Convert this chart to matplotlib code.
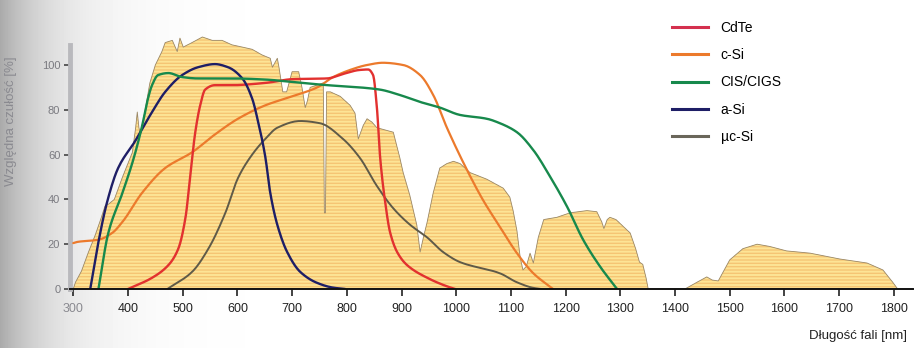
import numpy as np
import matplotlib
matplotlib.use("Agg")
import matplotlib.pyplot as plt
from matplotlib.lines import Line2D

plt.rcParams['font.family'] = ['Liberation Sans Narrow', 'Liberation Sans', 'DejaVu Sans']
plt.rcParams['hatch.linewidth'] = 1.4

# ---- data ----
spec_nm = [300, 304, 315, 327, 340, 350, 358, 365, 375, 390, 408, 414, 417, 420, 423, 430, 440, 450,
           462, 468, 481, 490, 495, 501, 517, 536, 554, 572, 590, 609, 627, 645, 660, 664, 673, 676,
           683, 690, 700, 712, 718, 724, 728, 733, 757, 759, 761, 763, 770, 788, 806, 815, 821, 830,
           837, 846, 855, 885, 897, 903, 915, 928, 934, 940, 947, 958, 970, 983, 995, 1007, 1025,
           1056, 1086, 1098, 1104, 1111, 1117, 1122, 1128, 1135, 1141, 1150, 1160, 1184, 1208, 1239,
           1257, 1266, 1270, 1276, 1281, 1292, 1318, 1328, 1335, 1341, 1347, 1351, 1418, 1440, 1458,
           1468, 1479, 1500, 1524, 1550, 1573, 1604, 1647, 1701, 1751, 1780, 1798, 1807]
spec_val = [0, 3, 8, 16, 24, 31, 37, 38, 40, 50, 61, 72, 79, 72, 69, 78, 92, 100,
            106, 110, 111, 106, 112, 108, 110, 112.5, 111, 111, 109, 108, 107, 104.5, 103, 99, 103, 99,
            88, 88, 97, 97, 90, 81, 84, 90, 92, 34, 34, 88, 88, 86, 82, 78.5, 67, 73,
            76, 74.5, 72, 70, 58.5, 52, 42, 28.5, 16.5, 23, 30, 43, 54, 56, 57, 56, 52,
            49, 45, 41, 35, 26, 14, 8.5, 10, 16, 11.6, 23, 31, 32, 34, 35,
            34.5, 30, 27, 31, 32, 31, 25, 18, 12, 11, 5, 0, 0, 3, 5.4,
            4, 3.6, 13, 18, 20, 19, 17, 16, 13.4, 11.6, 8.5, 3, 0]

cdte_nm = [400, 444, 474, 492, 505, 514, 523, 532, 541, 559, 590, 651, 702, 764, 793, 824, 839,
           848, 855, 861, 870, 879, 892, 910, 947, 983, 998]
cdte_val = [0, 5, 10.7, 18, 31.7, 51, 70, 82, 89, 91, 91, 92, 93.7, 94, 96, 97.8, 98,
            95.5, 81, 58.5, 39, 25.4, 16.5, 10.7, 5, 1.2, 0]

csi_nm = [300, 307, 346, 371, 390, 426, 468, 517, 559, 601, 651, 700, 746, 775, 806, 837, 866,
          903, 934, 958, 983, 1020, 1049, 1080, 1111, 1141, 1177]
csi_val = [20.5, 21, 22, 25, 30, 43, 54, 61, 69, 76, 82, 86, 90, 94.6, 97.8, 100, 101,
           100, 95.5, 86.6, 72, 53, 39.7, 27.7, 16, 7, 0]

cis_nm = [346, 364, 390, 410, 426, 435, 444, 455, 474, 499, 528, 590, 651, 702, 764, 824, 861,
          897, 934, 970, 1007, 1056, 1080, 1111, 1141, 1172, 1203, 1232, 1263, 1294]
cis_val = [0, 25, 43, 58, 73, 83.5, 91, 95.5, 96.4, 94.6, 94, 94, 93.5, 92.4, 91, 90, 89,
           86.6, 83.5, 81, 77.7, 76, 74, 70, 62, 50, 36.6, 22, 10, 0]

asi_nm = [331, 346, 362, 382, 413, 444, 468, 499, 528, 559, 583, 609, 627, 638, 651, 660, 673,
          691, 715, 746, 775, 797]
asi_val = [0, 21, 39, 54, 66, 79, 88, 95.5, 99, 100.4, 99, 94, 85, 74.5, 59, 43, 28.6,
           16.5, 7.6, 2.7, 0.6, 0]

ucsi_nm = [472, 517, 547, 578, 601, 627, 651, 673, 715, 751, 793, 824, 855, 885, 916, 947, 976,
           1007, 1080, 1111, 1141, 1155]
ucsi_val = [0, 7.6, 18, 34, 49.5, 60, 67, 72, 75, 74, 67, 58.5, 46, 36, 28.6, 23, 16.5,
            12, 7, 3, 0.5, 0]

series_labels = ['CdTe', 'c-Si', 'CIS/CIGS', 'a-Si', 'µc-Si']
x_ticks = [300, 400, 500, 600, 700, 800, 900, 1000, 1100, 1200, 1300, 1400, 1500, 1600, 1700, 1800]
y_ticks = [0, 20, 40, 60, 80, 100]


def smooth_path(x, y, n=12):
    """Monotone (PCHIP) rendering of a polyline for a smooth drawn curve."""
    x = np.asarray(x, float)
    y = np.asarray(y, float)
    h = np.diff(x)
    d = np.diff(y) / h
    m = np.zeros_like(y)
    m[0], m[-1] = d[0], d[-1]
    for k in range(1, len(x) - 1):
        if d[k - 1] * d[k] <= 0:
            m[k] = 0
        else:
            w1 = 2 * h[k] + h[k - 1]
            w2 = h[k] + 2 * h[k - 1]
            m[k] = (w1 + w2) / (w1 / d[k - 1] + w2 / d[k])
    xs, ys = [], []
    for k in range(len(x) - 1):
        t = np.linspace(0, 1, n, endpoint=False)
        h00 = 2 * t**3 - 3 * t**2 + 1
        h10 = t**3 - 2 * t**2 + t
        h01 = -2 * t**3 + 3 * t**2
        h11 = t**3 - t**2
        xs.append(x[k] + t * h[k])
        ys.append(h00 * y[k] + h10 * h[k] * m[k] + h01 * y[k + 1] + h11 * h[k] * m[k + 1])
    xs.append([x[-1]])
    ys.append([y[-1]])
    return np.concatenate(xs), np.concatenate(ys)


# ---- figure ----
fig = plt.figure(figsize=(9.23, 3.48), dpi=100)

# scanner-shadow background gradient
bg = fig.add_axes([0, 0, 1, 1], zorder=-10)
xs = np.linspace(0, 923, 923)
grad = 255 - 85 * np.exp(-xs / 55.0)
img = np.tile(grad, (10, 1)) / 255.0
bg.imshow(img, cmap='gray', vmin=0, vmax=1, aspect='auto', extent=[0, 1, 0, 1])
bg.set_axis_off()

ax = fig.add_axes([70 / 923, 59 / 348, 843 / 923, 257.6 / 348])
ax.patch.set_alpha(0)
ax.set_xlim(294, 1835)
ax.set_ylim(0, 115)

# solar spectrum
ax.fill_between(spec_nm, 0, spec_val, facecolor='#f5c574', edgecolor='#fde495',
                hatch='-----', linewidth=0, zorder=1)
ax.plot(spec_nm, spec_val, color='#9a8868', lw=0.6, zorder=2)

colors = ['#e2312f', '#ec7a2c', '#17894c', '#1e1e66', '#5f5a48']
widths = [1.7, 1.6, 1.7, 1.7, 1.4]
data = [(cdte_nm, cdte_val), (csi_nm, csi_val), (cis_nm, cis_val), (asi_nm, asi_val), (ucsi_nm, ucsi_val)]
order_z = [5, 4, 6, 5, 3]
for (xn, yv), c, w, z in zip(data, colors, widths, order_z):
    sx, sy = smooth_path(xn, yv)
    ax.plot(sx, np.clip(sy, 0, None), color=c, lw=w, zorder=z, solid_capstyle='round')

# legend
leg_colors = ['#d4304e', '#ec7a2c', '#17894c', '#1e1e66', '#6a665a']
handles = [Line2D([0], [0], color=c, lw=2.2) for c in leg_colors]
ax.legend(handles, series_labels, loc='upper left', bbox_to_anchor=(672 / 923, 1 - 21 / 348),
          bbox_transform=fig.transFigure, frameon=False, fontsize=10,
          handlelength=2.6, handletextpad=0.9, labelspacing=0.95, borderpad=0, borderaxespad=0)

# axes styling
for s in ['top', 'right']:
    ax.spines[s].set_visible(False)
ax.spines['bottom'].set_color('#111111')
ax.spines['bottom'].set_linewidth(1.4)
ax.spines['bottom'].set_zorder(8)
ax.spines['left'].set_color('#b9b9bd')
ax.spines['left'].set_linewidth(3.5)
ax.spines['left'].set_bounds(0, 109)

ax.set_xticks(x_ticks)
ax.set_xticklabels([str(t) for t in x_ticks])
ax.tick_params(axis='x', direction='out', length=5, width=1.2, color='#222222',
               labelsize=9, labelcolor='#222222', pad=5)
ax.set_yticks(y_ticks)
ax.set_yticklabels([str(t) for t in y_ticks])
ax.tick_params(axis='y', direction='out', length=4, width=1.2, color='#444444',
               labelsize=8, labelcolor='#7a7a80', pad=3)
ax.get_xticklabels()[0].set_color('#8a8a90')

ax.set_ylabel('Względna czułość [%]', fontsize=9.5, color='#8a8a90', labelpad=14)
ax.yaxis.set_label_coords(-0.063, 0.65)

fig.text(907 / 923, 1 - 336 / 348, 'Długość fali [nm]', ha='right', va='center',
         fontsize=9.5, color='#222222')

fig.savefig('out.png', dpi=100)
